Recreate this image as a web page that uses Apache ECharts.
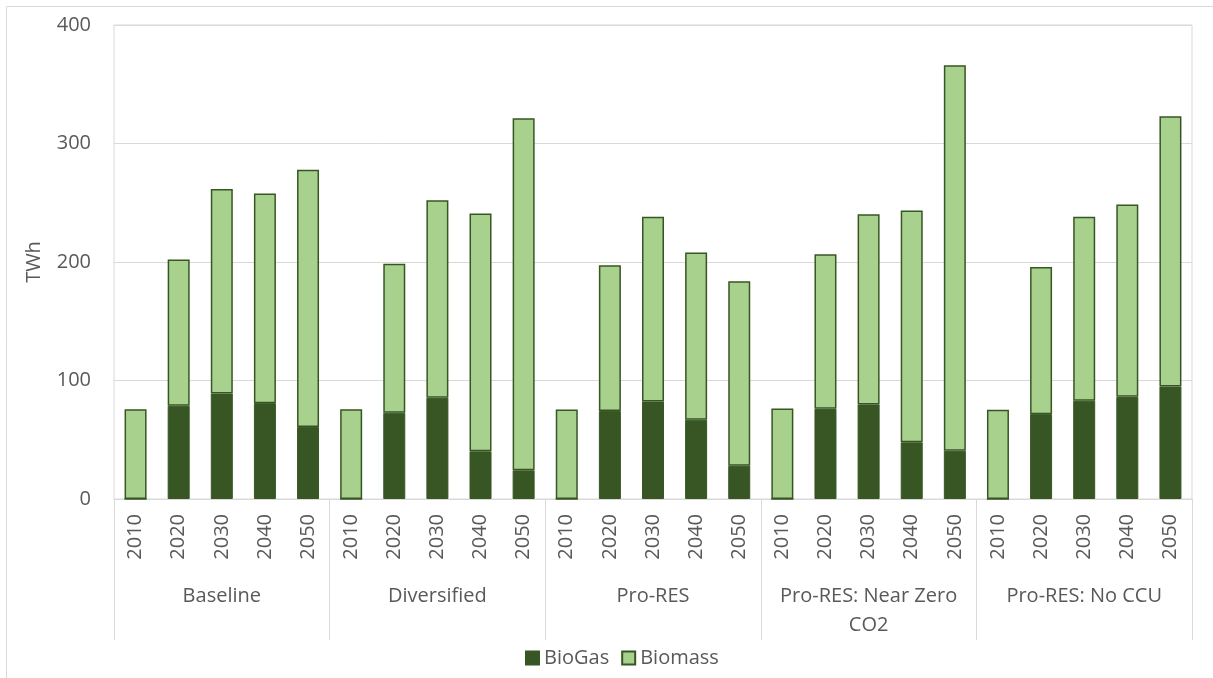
<!DOCTYPE html>
<html>
<head>
<meta charset="utf-8">
<script src="https://cdn.jsdelivr.net/npm/echarts@6/dist/echarts.min.js"></script>
<style>
  html, body { margin: 0; padding: 0; background: #ffffff; }
  #chart { width: 1213px; height: 678px; }
</style>
</head>
<body>
<div id="chart"></div>
<script>
// Scenario groups and the years shown within each group
const scenarios = ['Baseline', 'Diversified', 'Pro-RES', 'Pro-RES: Near Zero\nCO2', 'Pro-RES: No CCU'];
const years = ['2010', '2020', '2030', '2040', '2050'];

// BioGas (TWh), five years per scenario
const bioGas = [
  0, 78.7, 89.0, 80.9, 60.7,
  0, 72.8, 85.4, 40.2, 24.2,
  0, 74.2, 82.3, 66.9, 28.1,
  0, 76.1, 79.8, 47.8, 40.7,
  0, 71.6, 82.9, 86.2, 94.9
];

// Biomass (TWh), stacked on top of BioGas
const biomass = [
  75.8, 123.5, 172.5, 177.0, 217.1,
  75.8, 125.8, 166.8, 200.8, 297.1,
  75.6, 123.0, 155.9, 141.2, 155.6,
  76.4, 130.4, 160.6, 195.7, 325.3,
  75.3, 124.2, 155.3, 162.4, 228.1
];

const yTicks = { min: 0, max: 400, interval: 100 };

// One category per scenario/year pair; only the year part is printed
const categories = [];
scenarios.forEach(function (s) {
  years.forEach(function (y) { categories.push(s + '|' + y); });
});

const textColor = '#595959';
const lineColor = '#D9D9D9';
const font = 'Open Sans';
const darkGreen = '#375623';
const lightGreen = '#A9D18E';

const chart = echarts.init(document.getElementById('chart'), null, { renderer: 'canvas' });

chart.setOption({
  animation: false,
  backgroundColor: '#ffffff',
  textStyle: { fontFamily: font },
  graphic: [{
    type: 'rect',
    shape: { x: 6.5, y: 6.5, width: 1230, height: 700 },
    style: { fill: 'none', stroke: lineColor, lineWidth: 1 },
    silent: true,
    z: -1
  }],
  grid: {
    left: 114, right: 21, top: 25, bottom: 179,
    show: true, borderColor: lineColor, borderWidth: 1,
    containLabel: false, outerBoundsMode: 'none'
  },
  legend: {
    left: 520, top: 643,
    icon: 'rect', itemWidth: 13, itemHeight: 13, itemGap: 12,
    textStyle: { fontSize: 20, color: textColor, fontFamily: font },
    data: ['BioGas', 'Biomass']
  },
  xAxis: [{
    type: 'category',
    data: categories,
    position: 'bottom',
    axisLine: { show: true, lineStyle: { color: lineColor, width: 1 } },
    axisTick: { show: false },
    axisLabel: {
      interval: 0, rotate: 90, margin: 15,
      fontSize: 20, color: textColor, fontFamily: font,
      formatter: function (v) { return v.split('|')[1]; }
    },
    splitLine: { show: false }
  }, {
    type: 'category',
    data: scenarios,
    position: 'bottom',
    axisLine: { show: false },
    axisTick: { show: true, interval: 0, length: 141, lineStyle: { color: lineColor, width: 1 } },
    axisLabel: {
      interval: 0, margin: 83,
      fontSize: 20, lineHeight: 29, color: textColor, fontFamily: font
    },
    splitLine: { show: false }
  }],
  yAxis: {
    type: 'value',
    min: yTicks.min, max: yTicks.max, interval: yTicks.interval,
    name: 'TWh', nameLocation: 'middle', nameRotate: 90, nameGap: 70,
    nameTextStyle: { fontSize: 20, color: textColor, fontFamily: font },
    axisLine: { show: false },
    axisTick: { show: false },
    axisLabel: { fontSize: 20, color: textColor, margin: 23, fontFamily: font },
    splitLine: { show: true, lineStyle: { color: lineColor, width: 1 } }
  },
  series: [{
    name: 'BioGas',
    type: 'bar',
    stack: 'total',
    xAxisIndex: 0,
    barWidth: 22,
    itemStyle: { color: darkGreen, borderColor: darkGreen, borderWidth: 1 },
    data: bioGas
  }, {
    name: 'Biomass',
    type: 'bar',
    stack: 'total',
    xAxisIndex: 0,
    barWidth: 22,
    itemStyle: { color: lightGreen, borderColor: darkGreen, borderWidth: 1.5 },
    data: biomass
  }]
});
</script>
</body>
</html>
